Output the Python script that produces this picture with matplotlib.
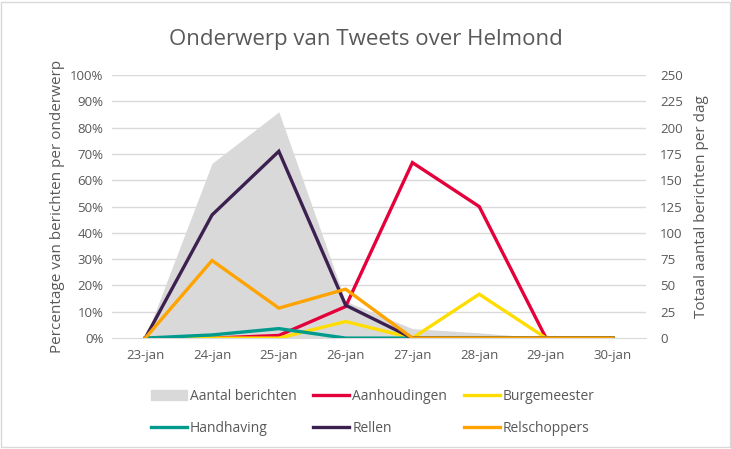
import matplotlib.pyplot as plt
import matplotlib.patches as mpatches
import numpy as np

dates = ["23-jan", "24-jan", "25-jan", "26-jan", "27-jan", "28-jan", "29-jan", "30-jan"]
aantal = [0, 166, 215, 35, 9, 5, 0, 0]
aanhoudingen = [0, 0, 1, 12, 66.7, 50, 0, 0]
burgemeester = [0, 0, 0, 6.3, 0, 16.7, 0, 0]
handhaving = [0, 1.2, 3.6, 0, 0, 0, 0, 0]
rellen = [0, 46.8, 71, 12.5, 0, 0, 0, 0]
relschoppers = [0, 29.5, 11.4, 18.6, 0, 0, 0, 0]

grey = "#595959"
plt.rcParams["font.family"] = ["Open Sans", "DejaVu Sans"]

fig = plt.figure(figsize=(7.31, 4.49), dpi=100)
ax2 = fig.add_axes([0.153, 0.247, 0.731, 0.586])
ax = ax2.twinx()
ax.yaxis.tick_left()
ax.yaxis.set_label_position("left")
ax2.yaxis.tick_right()
ax2.yaxis.set_label_position("right")

x = np.arange(len(dates))
ax2.set_ylim(0, 250)
ax2.set_yticks(np.arange(0, 251, 25))
# gridlines under the grey area
for v in np.arange(25, 251, 25):
    ax2.axhline(v, color="#d9d9d9", lw=1, zorder=1)
ax2.fill_between(x, aantal, color="#d9d9d9", lw=0, zorder=2)
ax2.set_ylabel("Totaal aantal berichten per dag", color=grey, fontsize=11, labelpad=8)

series = [
    ("Aanhoudingen", aanhoudingen, "#e4003b"),
    ("Burgemeester", burgemeester, "#ffdd00"),
    ("Handhaving", handhaving, "#009b8d"),
    ("Rellen", rellen, "#3c2150"),
    ("Relschoppers", relschoppers, "#ffa300"),
]
handles = {}
for name, vals, col in series:
    (h,) = ax.plot(x, vals, color=col, lw=2.4, solid_joinstyle="miter")
    handles[name] = h
ax.set_ylim(0, 100)
ax.set_yticks(np.arange(0, 101, 10))
ax.set_yticklabels([f"{v}%" for v in range(0, 101, 10)])
ax.set_ylabel("Percentage van berichten per onderwerp", color=grey, fontsize=11, labelpad=4)
ax.set_xlim(-0.5, len(dates) - 0.5)
ax2.set_xticks(x)
ax2.set_xticklabels(dates)

for a in (ax, ax2):
    for s in a.spines.values():
        s.set_visible(False)
    a.tick_params(length=0, colors=grey, labelsize=9.5)
ax2.spines["bottom"].set_visible(True)
ax2.spines["bottom"].set_color("#d9d9d9")
ax2.tick_params(axis="x", pad=8)
ax2.tick_params(axis="y", pad=10)
ax.tick_params(axis="y", pad=6)

fig.suptitle("Onderwerp van Tweets over Helmond", x=0.5, y=0.935, fontsize=16, color=grey)

area_patch = mpatches.Patch(color="#d9d9d9", label="Aantal berichten")
order = [area_patch, handles["Handhaving"], handles["Aanhoudingen"],
         handles["Rellen"], handles["Burgemeester"], handles["Relschoppers"]]
labels = ["Aantal berichten", "Handhaving", "Aanhoudingen", "Rellen", "Burgemeester", "Relschoppers"]
leg = fig.legend(order, labels, ncol=3, loc="center", bbox_to_anchor=(0.51, 0.082),
                 frameon=False, fontsize=10, labelcolor=grey, handlelength=2.6,
                 handletextpad=0.2, columnspacing=1.2, labelspacing=1.2)

fig.patches.append(mpatches.Rectangle((0.002, 0.004), 0.996, 0.992, transform=fig.transFigure,
                                      fill=False, edgecolor="#d9d9d9", lw=1))

fig.savefig("out.png", dpi=100)
